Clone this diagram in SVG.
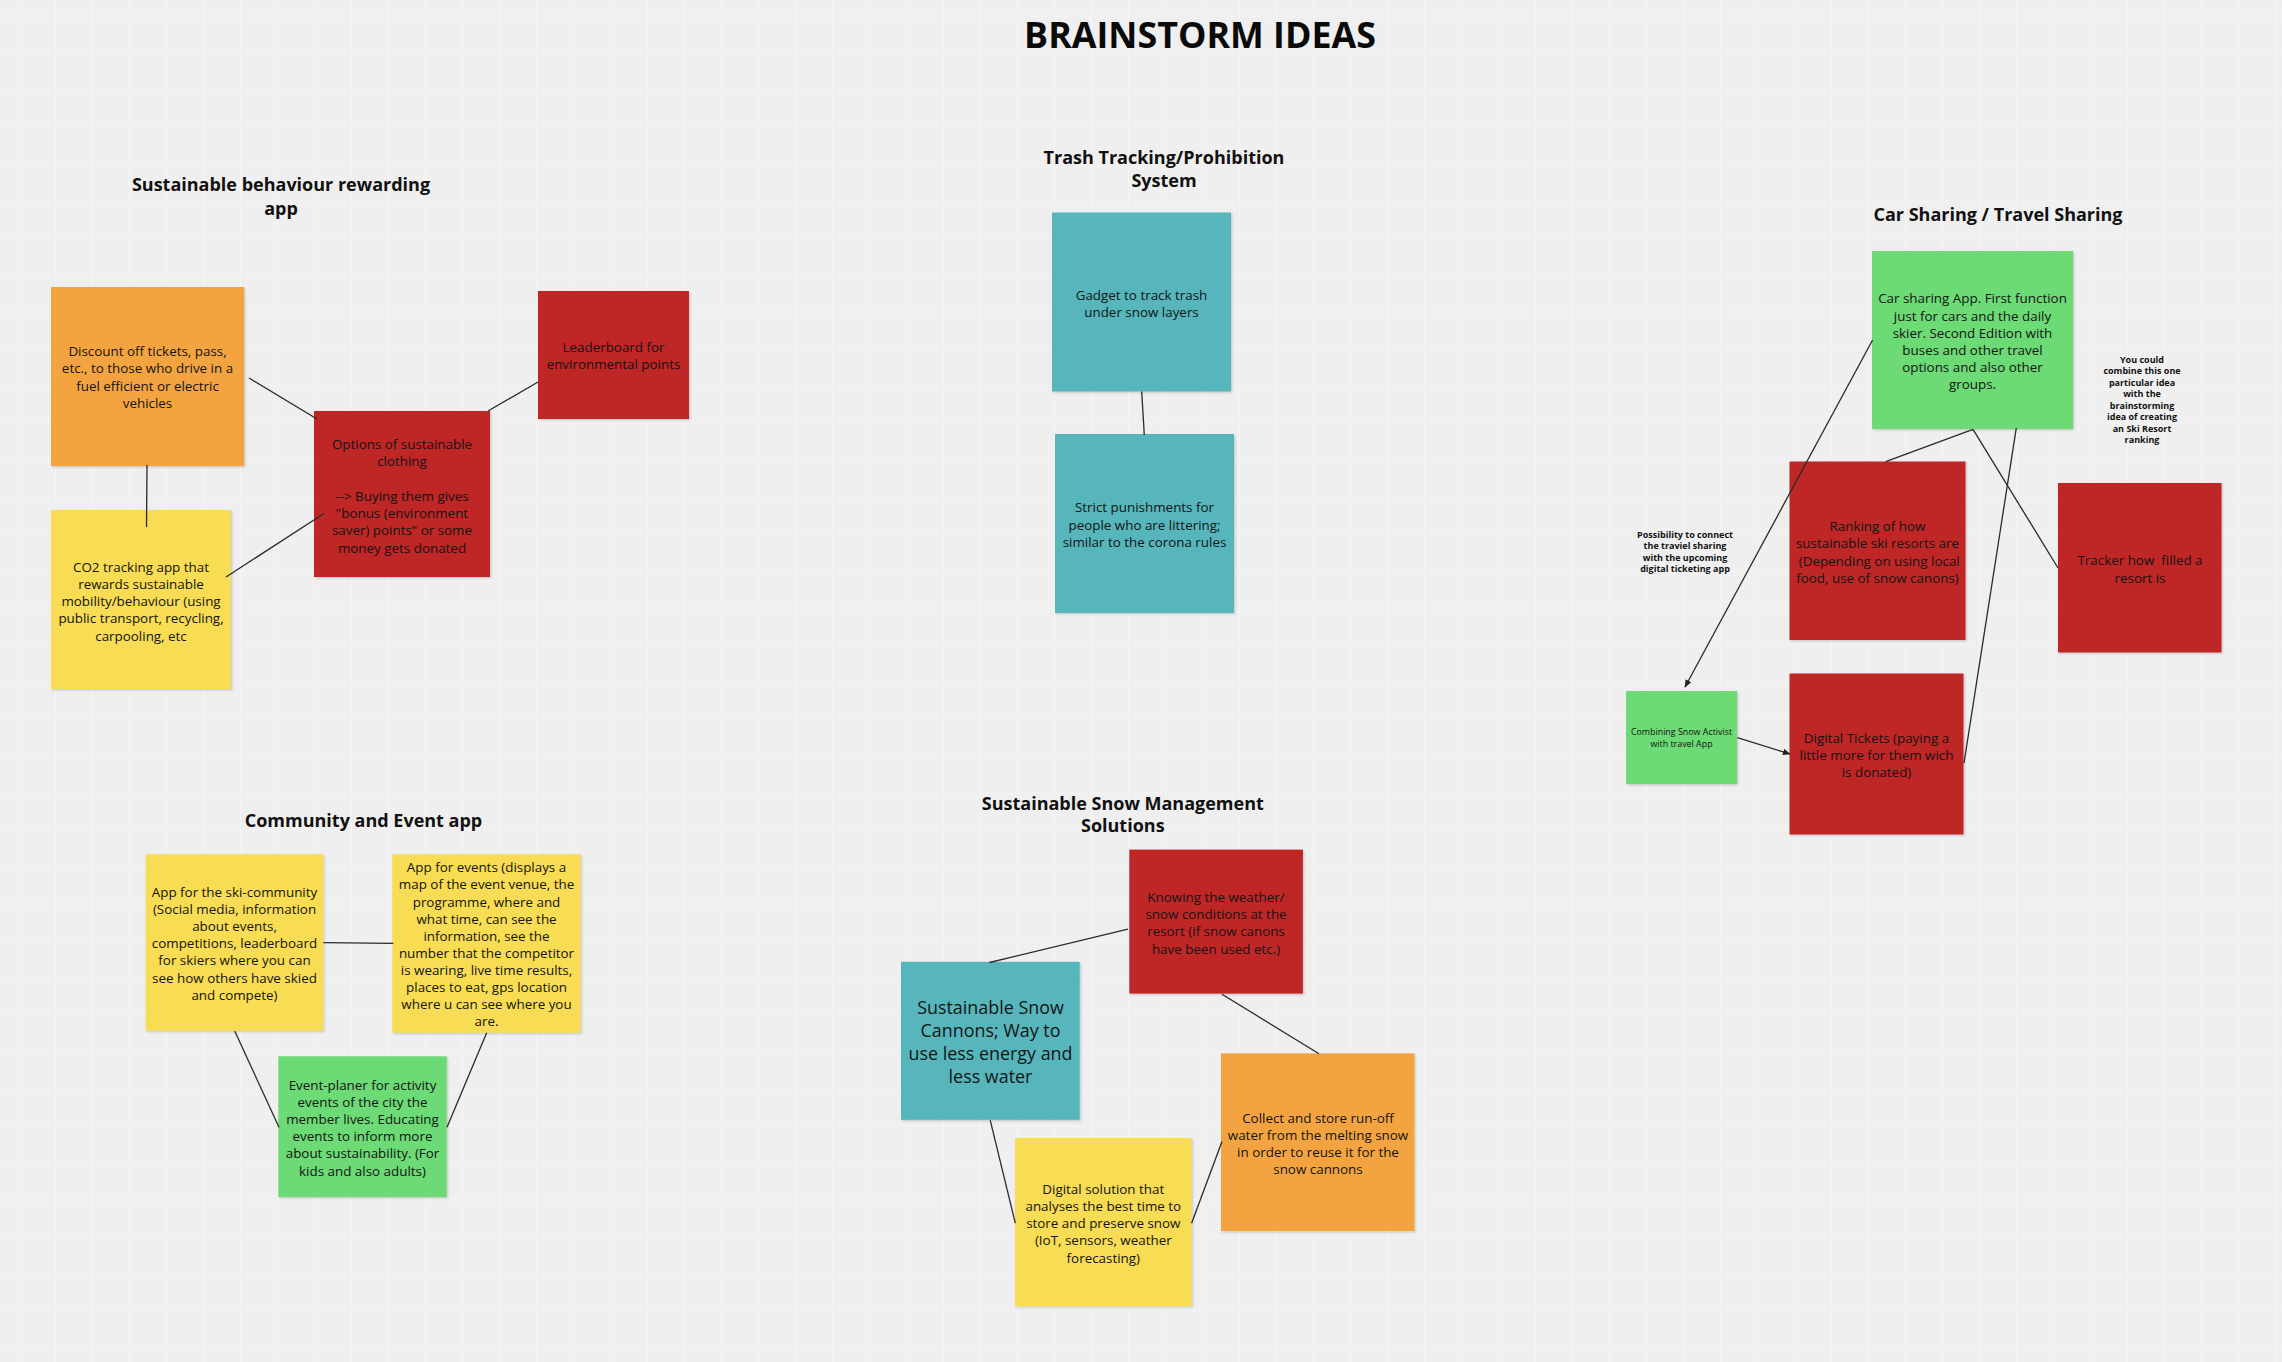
<svg xmlns="http://www.w3.org/2000/svg" width="2282" height="1362" viewBox="0 0 2282 1362">
<defs>
<pattern id="grid" x="18" y="15.5" width="37" height="37" patternUnits="userSpaceOnUse">
<path d="M0 0 H37 M0 0 V37" stroke="#f6f6f6" stroke-width="1.2" fill="none"/>
</pattern>
<filter id="sh" x="-5%" y="-5%" width="115%" height="115%">
<feDropShadow dx="1.2" dy="1.2" stdDeviation="0.8" flood-color="#000" flood-opacity="0.18"/>
</filter>
<marker id="arr" viewBox="0 0 10 10" refX="9" refY="5" markerWidth="8" markerHeight="8" markerUnits="userSpaceOnUse" orient="auto">
<path d="M0 1 L10 5 L0 9 Z" fill="#222"/>
</marker>
</defs>
<style>
.hd{font-family:"Open Sans","DejaVu Sans",sans-serif;font-weight:700;font-size:18px;fill:#111;text-anchor:middle}
.tt{font-family:"Open Sans","DejaVu Sans",sans-serif;font-weight:700;font-size:35.8px;fill:#0a0a0a;text-anchor:middle}
.t{font-family:"Open Sans","DejaVu Sans",sans-serif;font-size:13.4px;fill:#141414;text-anchor:middle}
.tb{font-family:"Open Sans","DejaVu Sans",sans-serif;font-size:17.9px;fill:#141414;text-anchor:middle}
.ts{font-family:"Open Sans","DejaVu Sans",sans-serif;font-size:8.9px;fill:#141414;text-anchor:middle}
.nt{font-family:"Open Sans","DejaVu Sans",sans-serif;font-weight:700;font-size:9px;fill:#111;text-anchor:middle}
.y{fill:#F8DC52;filter:url(#sh)}
.o{fill:#F3A440;filter:url(#sh)}
.r{fill:#BF2528;filter:url(#sh)}
.b{fill:#56B6BC;filter:url(#sh)}
.g{fill:#6CDA74;filter:url(#sh)}
.c line{stroke:#2a2a2a;stroke-width:1.3;fill:none}
</style>
<rect x="0" y="0" width="2282" height="1362" fill="#efefef"/>
<rect x="0" y="0" width="2282" height="1362" fill="url(#grid)"/>

<text class="tt" x="1200" y="48">BRAINSTORM IDEAS</text>

<g id="headers">
<text class="hd" x="281"><tspan x="281" y="191">Sustainable behaviour rewarding</tspan><tspan x="281" y="215">app</tspan></text>
<text class="hd"><tspan x="1164" y="163.5">Trash Tracking/Prohibition</tspan><tspan x="1164" y="187">System</tspan></text>
<text class="hd" x="1998" y="220.5">Car Sharing / Travel Sharing</text>
<text class="hd" x="363.5" y="826.5">Community and Event app</text>
<text class="hd"><tspan x="1122.8" y="810">Sustainable Snow Management</tspan><tspan x="1122.8" y="832.3">Solutions</tspan></text>
</g>

<g id="n-discount">
<rect class="o" x="51" y="287" width="193" height="179"/>
<text class="t"><tspan x="147.5" y="356">Discount off tickets, pass,</tspan><tspan x="147.5" y="373.3">etc., to those who drive in a</tspan><tspan x="147.5" y="390.6">fuel efficient or electric</tspan><tspan x="147.5" y="407.9">vehicles</tspan></text>
</g>
<g id="n-co2">
<rect class="y" x="51" y="510" width="180" height="179"/>
<text class="t"><tspan x="141" y="571.5">CO2 tracking app that</tspan><tspan x="141" y="588.8">rewards sustainable</tspan><tspan x="141" y="606.1">mobility/behaviour (using</tspan><tspan x="141" y="623.4">public transport, recycling,</tspan><tspan x="141" y="640.7">carpooling, etc</tspan></text>
</g>
<g id="n-clothing">
<rect class="r" x="314" y="411" width="176" height="166"/>
<text class="t"><tspan x="402" y="448.7">Options of sustainable</tspan><tspan x="402" y="466">clothing</tspan><tspan x="402" y="500.6">--&gt; Buying them gives</tspan><tspan x="402" y="517.9">"bonus (environment</tspan><tspan x="402" y="535.2">saver) points" or some</tspan><tspan x="402" y="552.5">money gets donated</tspan></text>
</g>
<g id="n-leaderboard">
<rect class="r" x="538" y="291" width="151" height="128"/>
<text class="t"><tspan x="613.5" y="351.8">Leaderboard for</tspan><tspan x="613.5" y="369">environmental points</tspan></text>
</g>

<g id="n-gadget">
<rect class="b" x="1052" y="212.5" width="179" height="179"/>
<text class="t"><tspan x="1141.5" y="299.6">Gadget to track trash</tspan><tspan x="1141.5" y="316.8">under snow layers</tspan></text>
</g>
<g id="n-strict">
<rect class="b" x="1055" y="434" width="179" height="179"/>
<text class="t"><tspan x="1144.5" y="512.3">Strict punishments for</tspan><tspan x="1144.5" y="529.6">people who are littering;</tspan><tspan x="1144.5" y="546.9">similar to the corona rules</tspan></text>
</g>

<g id="n-carsharing">
<rect class="g" x="1872" y="251" width="201" height="178"/>
<text class="t"><tspan x="1972.5" y="303.3">Car sharing App. First function</tspan><tspan x="1972.5" y="320.5">just for cars and the daily</tspan><tspan x="1972.5" y="337.7">skier. Second Edition with</tspan><tspan x="1972.5" y="354.9">buses and other travel</tspan><tspan x="1972.5" y="372.1">options and also other</tspan><tspan x="1972.5" y="389.3">groups.</tspan></text>
</g>
<g id="n-ranking">
<rect class="r" x="1789.5" y="461.5" width="176" height="178.5"/>
<text class="t" style="white-space:pre"><tspan x="1877.5" y="531">Ranking of how</tspan><tspan x="1877.5" y="548.3">sustainable ski resorts are</tspan><tspan x="1877.5" y="565.6"> (Depending on using local</tspan><tspan x="1877.5" y="582.9">food, use of snow canons)</tspan></text>
</g>
<g id="n-tracker">
<rect class="r" x="2058" y="483" width="163.5" height="169.5"/>
<text class="t" style="white-space:pre"><tspan x="2140" y="565.3">Tracker how  filled a</tspan><tspan x="2140" y="582.6">resort is</tspan></text>
</g>
<g id="n-tickets">
<rect class="r" x="1789.5" y="673.5" width="174" height="161"/>
<text class="t"><tspan x="1876.5" y="742.7">Digital Tickets (paying a</tspan><tspan x="1876.5" y="760">little more for them wich</tspan><tspan x="1876.5" y="777.3">is donated)</tspan></text>
</g>
<g id="n-combining">
<rect class="g" x="1626" y="691" width="111" height="93"/>
<text class="ts"><tspan x="1681.5" y="735">Combining Snow Activist</tspan><tspan x="1681.5" y="746.7">with travel App</tspan></text>
</g>
<g id="n-note-ranking">
<text class="nt"><tspan x="2142" y="362.5">You could</tspan><tspan x="2142" y="374">combine this one</tspan><tspan x="2142" y="385.5">particular idea</tspan><tspan x="2142" y="397">with the</tspan><tspan x="2142" y="408.5">brainstorming</tspan><tspan x="2142" y="420">idea of creating</tspan><tspan x="2142" y="431.5">an Ski Resort</tspan><tspan x="2142" y="443">ranking</tspan></text>
</g>
<g id="n-note-ticketing">
<text class="nt"><tspan x="1685" y="537.5">Possibility to connect</tspan><tspan x="1685" y="549.1">the traviel sharing</tspan><tspan x="1685" y="560.7">with the upcoming</tspan><tspan x="1685" y="572.3">digital ticketing app</tspan></text>
</g>

<g id="n-community">
<rect class="y" x="145.7" y="854.3" width="177.6" height="176.4"/>
<text class="t"><tspan x="234.5" y="897">App for the ski-community</tspan><tspan x="234.5" y="914.1">(Social media, information</tspan><tspan x="234.5" y="931.2">about events,</tspan><tspan x="234.5" y="948.3">competitions, leaderboard</tspan><tspan x="234.5" y="965.4">for skiers where you can</tspan><tspan x="234.5" y="982.5">see how others have skied</tspan><tspan x="234.5" y="999.6">and compete)</tspan></text>
</g>
<g id="n-events">
<rect class="y" x="392.3" y="854.3" width="188.4" height="178.4"/>
<text class="t"><tspan x="486.5" y="872.3">App for events (displays a</tspan><tspan x="486.5" y="889.4">map of the event venue, the</tspan><tspan x="486.5" y="906.5">programme, where and</tspan><tspan x="486.5" y="923.6">what time, can see the</tspan><tspan x="486.5" y="940.7">information, see the</tspan><tspan x="486.5" y="957.8">number that the competitor</tspan><tspan x="486.5" y="974.9">is wearing, live time results,</tspan><tspan x="486.5" y="992">places to eat, gps location</tspan><tspan x="486.5" y="1009.1">where u can see where you</tspan><tspan x="486.5" y="1026.2">are.</tspan></text>
</g>
<g id="n-eventplaner">
<rect class="g" x="278.3" y="1056.3" width="168.4" height="140.7"/>
<text class="t"><tspan x="362.5" y="1090">Event-planer for activity</tspan><tspan x="362.5" y="1107.1">events of the city the</tspan><tspan x="362.5" y="1124.2">member lives. Educating</tspan><tspan x="362.5" y="1141.3">events to inform more</tspan><tspan x="362.5" y="1158.4">about sustainability. (For</tspan><tspan x="362.5" y="1175.5">kids and also adults)</tspan></text>
</g>

<g id="n-weather">
<rect class="r" x="1129.3" y="849.6" width="173.6" height="144"/>
<text class="t"><tspan x="1216" y="902">Knowing the weather/</tspan><tspan x="1216" y="919.2">snow conditions at the</tspan><tspan x="1216" y="936.4">resort (if snow canons</tspan><tspan x="1216" y="953.6">have been used etc.)</tspan></text>
</g>
<g id="n-cannons">
<rect class="b" x="901" y="961.8" width="178.7" height="158"/>
<text class="tb"><tspan x="990.5" y="1014">Sustainable Snow</tspan><tspan x="990.5" y="1037.1">Cannons; Way to</tspan><tspan x="990.5" y="1060.2">use less energy and</tspan><tspan x="990.5" y="1083.3">less water</tspan></text>
</g>
<g id="n-runoff">
<rect class="o" x="1221" y="1053.4" width="193.4" height="177.7"/>
<text class="t"><tspan x="1318" y="1122.5">Collect and store run-off</tspan><tspan x="1318" y="1139.7">water from the melting snow</tspan><tspan x="1318" y="1156.9">in order to reuse it for the</tspan><tspan x="1318" y="1174.1">snow cannons</tspan></text>
</g>
<g id="n-digital">
<rect class="y" x="1015" y="1138" width="176.6" height="168.2"/>
<text class="t"><tspan x="1103.3" y="1194.1">Digital solution that</tspan><tspan x="1103.3" y="1211.2">analyses the best time to</tspan><tspan x="1103.3" y="1228.3">store and preserve snow</tspan><tspan x="1103.3" y="1245.4">(IoT, sensors, weather</tspan><tspan x="1103.3" y="1262.5">forecasting)</tspan></text>
</g>

<g id="connectors" class="c">
<line x1="249" y1="378" x2="317" y2="419"/>
<line x1="147" y1="465" x2="146.5" y2="527"/>
<line x1="226" y1="577" x2="324" y2="513.5"/>
<line x1="488" y1="411" x2="538" y2="382"/>
<line x1="1141.7" y1="391.5" x2="1144.3" y2="435"/>
<line x1="1872.6" y1="340" x2="1685" y2="687" marker-end="url(#arr)"/>
<line x1="1973" y1="429.3" x2="1885.7" y2="461.7"/>
<line x1="1973" y1="429.3" x2="2058" y2="568"/>
<line x1="2016.3" y1="428" x2="1964" y2="763"/>
<line x1="1737.3" y1="737.7" x2="1790" y2="754" marker-end="url(#arr)"/>
<line x1="323.3" y1="942.7" x2="393.3" y2="943.3"/>
<line x1="234.7" y1="1031" x2="279" y2="1127.3"/>
<line x1="486.7" y1="1032.7" x2="447" y2="1127.3"/>
<line x1="989.5" y1="962.5" x2="1127.9" y2="929.1"/>
<line x1="1222" y1="994.2" x2="1319" y2="1053.8"/>
<line x1="990.2" y1="1120.2" x2="1015.3" y2="1223.2"/>
<line x1="1191.6" y1="1223.2" x2="1222" y2="1141.6"/>
</g>
</svg>
